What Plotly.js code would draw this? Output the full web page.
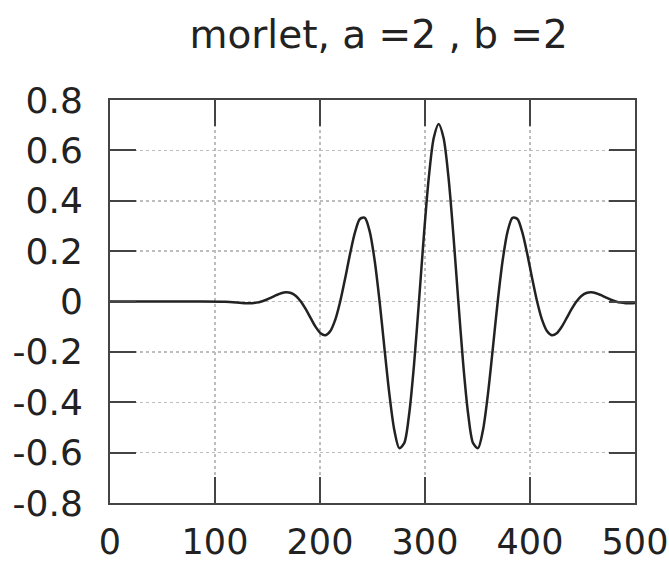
<!DOCTYPE html>
<html>
<head>
<meta charset="utf-8">
<script src="https://cdn.plot.ly/plotly-3.0.1.min.js"></script>
<style>html,body{margin:0;padding:0;background:#fff;}#chart{width:669px;height:568px;}</style>
</head>
<body>
<div id="chart"></div>
<script>
// Values
var xs = [0, 40, 80, 110,
  125.5, 130.19, 134.88, 139.56, 144.25, 148.94, 153.63, 158.31, 163, 167.69,
  172.38, 177.06, 181.75, 186.44, 191.13, 195.81, 200.5, 205.19, 209.88, 214.56,
  219.25, 223.94, 228.63, 233.31, 238, 242.69, 247.38, 252.06, 256.75, 261.44,
  266.13, 270.81, 275.5, 280.19, 284.88, 289.56, 294.25, 298.94, 303.63, 308.31,
  313,
  317.69, 322.38, 327.06, 331.75, 336.44, 341.13, 345.81, 350.5, 355.19, 359.88,
  364.56, 369.25, 373.94, 378.63, 383.31, 388, 392.69, 397.38, 402.06, 406.75,
  411.44, 416.13, 420.81, 425.5, 430.19, 434.88, 439.56, 444.25, 448.94, 453.63,
  458.31, 463, 467.69, 472.38, 477.06, 481.75, 486.44, 491.13, 495.81, 500];
var ys = [0, 0, 0, -0.001,
  -0.006, -0.0069, -0.0066, -0.0045, 0, 0.0069, 0.0157, 0.025, 0.0329, 0.0367,
  0.0337, 0.0218, 0, -0.0305, -0.066, -0.1004, -0.1258, -0.1338, -0.1172, -0.0721,
  0, 0.0916, 0.1891, 0.2743, 0.3278, 0.3322, 0.2773, 0.1627, 0, -0.1879,
  -0.3696, -0.5112, -0.5821, -0.5625, -0.4476, -0.2503, 0, 0.2626, 0.4926, 0.6494,
  0.705,
  0.6494, 0.4926, 0.2626, 0, -0.2503, -0.4476, -0.5625, -0.5821, -0.5112, -0.3696,
  -0.1879, 0, 0.1627, 0.2773, 0.3322, 0.3278, 0.2743, 0.1891, 0.0916, 0,
  -0.0721, -0.1172, -0.1338, -0.1258, -0.1004, -0.066, -0.0305, 0, 0.0218, 0.0337,
  0.0367, 0.0329, 0.025, 0.0157, 0.0069, 0, -0.0045, -0.0066, -0.0069, -0.006];
var xTickVals = [0, 100, 200, 300, 400, 500];
var xTickText = ['0', '100', '200', '300', '400', '500'];
var yTickVals = [0.8, 0.6, 0.4, 0.2, 0, -0.2, -0.4, -0.6, -0.8];
var yTickText = ['0.8', '0.6', '0.4', '0.2', '0', '-0.2', '-0.4', '-0.6', '-0.8'];
var titleText = 'morlet, a =2 , b =2';

var trace = {
  x: xs, y: ys, type: 'scatter', mode: 'lines',
  line: {color: '#222', width: 2.5, shape: 'spline', smoothing: 0.8},
  hoverinfo: 'none'
};
var axisCommon = {
  showline: true, linecolor: '#444', linewidth: 2, mirror: 'ticks',
  ticks: 'inside', ticklen: 26, tickwidth: 2, tickcolor: '#444',
  showgrid: true, gridcolor: '#bdbdbd', gridwidth: 1.5, griddash: 'dot',
  zeroline: false, tickmode: 'array'
};
var layout = {
  width: 669, height: 568,
  margin: {l: 110, r: 34, t: 100, b: 65, pad: 0},
  paper_bgcolor: '#fff', plot_bgcolor: '#fff',
  showlegend: false,
  title: {text: titleText, x: 0.566, xanchor: 'center', y: 0.94, yanchor: 'middle',
    font: {family: 'DejaVu Sans', size: 39, color: '#222'}},
  xaxis: Object.assign({}, axisCommon, {
    range: [0, 500], tickvals: xTickVals, ticktext: xTickText,
    tickfont: {family: 'DejaVu Sans', size: 35, color: '#222'}, ticklabelstandoff: 7,
    ticklabeloverflow: 'allow'
  }),
  yaxis: Object.assign({}, axisCommon, {
    range: [-0.8, 0.8], tickvals: yTickVals, ticktext: yTickText,
    tickfont: {family: 'DejaVu Sans', size: 36, color: '#222'}, ticklabelstandoff: 18,
    ticklabeloverflow: 'allow'
  })
};
Plotly.newPlot('chart', [trace], layout, {staticPlot: true, displayModeBar: false});
</script>
</body>
</html>
